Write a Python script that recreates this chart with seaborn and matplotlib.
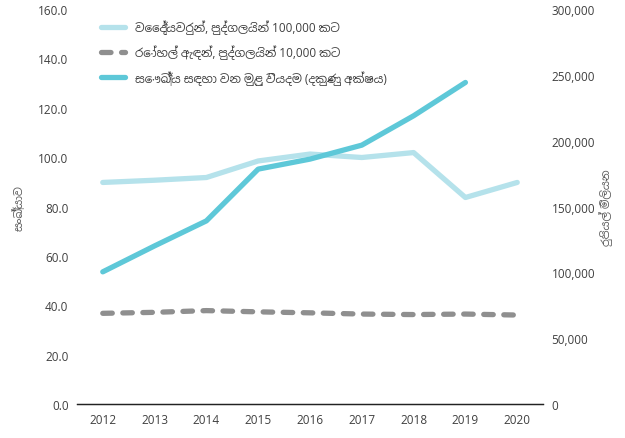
import pandas as pd
import seaborn as sns
import matplotlib.pyplot as plt
from matplotlib.ticker import FuncFormatter

years = ["2012", "2013", "2014", "2015", "2016", "2017", "2018", "2019", "2020"]
doctors = [89.8, 90.7, 91.8, 98.5, 101.3, 99.9, 101.9, 83.7, 89.8]
beds = [36.8, 37.2, 37.9, 37.4, 37.0, 36.5, 36.3, 36.5, 36.1]
spend_years = ["2012", "2013", "2014", "2015", "2016", "2017", "2018", "2019"]
spend = [100500, 120200, 139200, 178500, 186100, 196700, 219000, 244300]

lbl_doc = "වෛද්‍යවරුන්, පුද්ගලයින් 100,000 කට"
lbl_beds = "රෝහල් ඇඳන්, පුද්ගලයින් 10,000 කට"
lbl_spend = "සෞඛ්‍ය සඳහා වන මුළු වියදම (දකුණු අක්ෂය)"

sns.set_style("white")
# Sinhala glyphs come from Noto Sans Sinhala, digits from Open Sans
plt.rcParams['font.family'] = ['Open Sans', 'Noto Sans Sinhala', 'DejaVu Sans']

df = pd.DataFrame({"year": years, "doctors": doctors, "beds": beds})
sp = pd.DataFrame({"year": spend_years, "spend": spend})

fig = plt.figure(figsize=(6.25, 4.39), dpi=100)
ax = fig.add_axes([0.123, 0.077, 0.746, 0.9])
ax2 = ax.twinx()

c_doc = "#b5e2eb"
c_beds = "#8f8f8f"
c_spend = "#5ec8d8"
lw = 3.8

sns.lineplot(data=df, x="year", y="doctors", ax=ax, color=c_doc, lw=lw,
             solid_capstyle="round", solid_joinstyle="round",
             label=lbl_doc, legend=False, sort=False)
sns.lineplot(data=df, x="year", y="beds", ax=ax, color=c_beds, lw=lw,
             dashes=False, legend=False, sort=False, label=lbl_beds)
ax.lines[-1].set_dashes((1.8, 2.0))
ax.lines[-1].set_dash_capstyle("round")
sns.lineplot(data=sp, x="year", y="spend", ax=ax2, color=c_spend, lw=lw,
             solid_capstyle="round", solid_joinstyle="round",
             label=lbl_spend, legend=False, sort=False)

ax.set_xlim(-0.5, 8.5)
ax.set_ylim(0, 160)
ax2.set_ylim(0, 300000)
ax.set_yticks(range(0, 161, 20))
ax2.set_yticks(range(0, 300001, 50000))
ax.yaxis.set_major_formatter(FuncFormatter(lambda v, p: f"{v:.1f}"))
ax2.yaxis.set_major_formatter(FuncFormatter(lambda v, p: f"{int(v):,}"))

for a in (ax, ax2):
    for s in ("top", "left", "right"):
        a.spines[s].set_visible(False)
    a.spines["bottom"].set_color("#222222")
    a.spines["bottom"].set_linewidth(0.9)
    a.tick_params(length=0, labelsize=8.5, labelcolor="#404040", pad=6)
    a.grid(False)

ax.set_xlabel("")
ax.set_ylabel("සංඛ්‍යාව", fontsize=8, color="#595959", labelpad=9)
ax2.set_ylabel("රුපියල් මිලියන", fontsize=8, color="#595959", rotation=90, labelpad=3)

h1, l1 = ax.get_legend_handles_labels()
h2, l2 = ax2.get_legend_handles_labels()
leg = ax.legend(h1 + h2, l1 + l2, loc="upper left", bbox_to_anchor=(0.03, 1.0),
                frameon=False, fontsize=8.5, handlelength=2.0, labelspacing=0.9,
                handletextpad=0.8)
for t in leg.get_texts():
    t.set_color("#404040")

fig.savefig("out.png", dpi=100)
